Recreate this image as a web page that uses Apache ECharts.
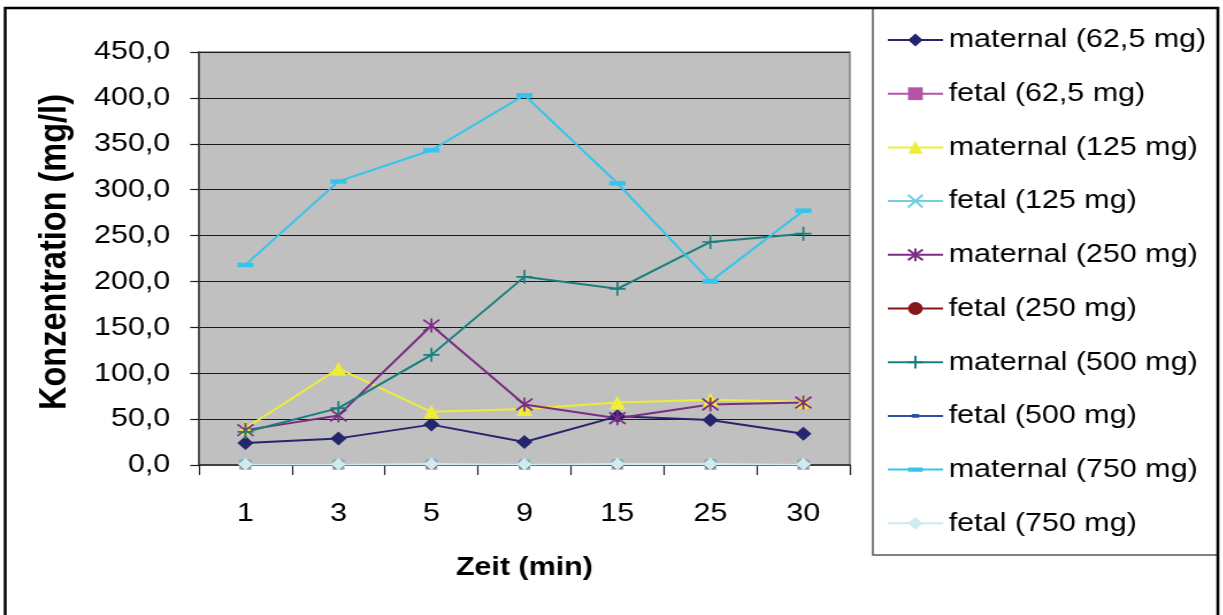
<!DOCTYPE html>
<html>
<head>
<meta charset="utf-8">
<script src="https://cdn.jsdelivr.net/npm/echarts@6/dist/echarts.min.js"></script>
<style>
  html, body { margin: 0; padding: 0; background: #fff; overflow: hidden; }
  /* the chart is laid out narrow and widened horizontally */
  #chart { width: 1063px; height: 615px; transform: scaleX(1.15); transform-origin: 0 0; }
</style>
</head>
<body>
<div id="chart"></div>
<script>
// Zeitpunkte (min)
const categories = ['1', '3', '5', '9', '15', '25', '30'];

// Konzentration (mg/l) je Dosis
const maternal62 = [24, 29, 44, 25, 53, 49, 34];
const fetal62 = [0.5, 0.5, 0.6, 0.5, 0.6, 0.5, 0.5];
const maternal125 = [40, 105, 58, 61, 68, 71, 69];
const fetal125 = [0.6, 0.7, 0.6, 0.7, 0.7, 0.6, 0.6];
const maternal250 = [38, 54, 152, 66, 51, 66, 68];
const fetal250 = [0.6, 0.6, 0.7, 0.6, 0.7, 0.7, 0.6];
const maternal500 = [36, 62, 120, 205, 192, 243, 252];
const fetal500 = [0.7, 0.7, 0.8, 0.7, 0.8, 0.8, 0.7];
const maternal750 = [218, 309, 343, 403, 307, 200, 277];
const fetal750 = [0.9, 0.9, 1.0, 0.9, 1.0, 1.0, 0.9];

const FONT = 'Liberation Sans, Arial, sans-serif';
const FS = 26.5;

// marker shapes; the tiny corner segments keep a square frame so dashes stay flat
const SYM_CROSS = 'path://M0,0 L10,10 M10,0 L0,10';
const SYM_STAR = 'path://M0,0 L10,10 M10,0 L0,10 M5,-1 L5,11';
const SYM_PLUS = 'path://M5,0 L5,10 M0,5 L10,5';
const SYM_DASH = 'path://M0,0 L0.01,0 L0,0.01 Z M0,3.4 L10,3.4 L10,6.6 L0,6.6 Z M9.99,10 L10,10 L10,9.99 Z';
const SYM_DASH_S = 'path://M0,0 L0.01,0 L0,0.01 Z M2.5,3.6 L7.5,3.6 L7.5,6.4 L2.5,6.4 Z M9.99,10 L10,10 L10,9.99 Z';

function line(name, data, color, symbol, size, stroked) {
  return {
    name: name,
    type: 'line',
    data: data,
    symbol: symbol,
    symbolSize: size,
    showAllSymbol: true,
    lineStyle: { color: color, width: 2 },
    itemStyle: stroked
      ? { color: 'rgba(0,0,0,0)', borderColor: color, borderWidth: 1.7 }
      : { color: color },
    emphasis: { disabled: true },
    animation: false
  };
}

const series = [
  line('maternal (62,5 mg)', maternal62, '#25246F', 'diamond', 14),
  line('fetal (62,5 mg)', fetal62, '#B653A7', 'rect', 10),
  line('maternal (125 mg)', maternal125, '#EDED3A', 'triangle', 14),
  line('fetal (125 mg)', fetal125, '#6FD0DF', SYM_CROSS, 10, true),
  line('maternal (250 mg)', maternal250, '#7B2D83', SYM_STAR, 14, true),
  line('fetal (250 mg)', fetal250, '#861719', 'circle', 10),
  line('maternal (500 mg)', maternal500, '#1A7F7C', SYM_PLUS, 14, true),
  line('fetal (500 mg)', fetal500, '#2F4FA3', SYM_DASH_S, 12),
  line('maternal (750 mg)', maternal750, '#33C5EE', SYM_DASH, 14),
  line('fetal (750 mg)', fetal750, '#CDEBF0', 'diamond', 13)
];

const chart = echarts.init(document.getElementById('chart'), null, { renderer: 'canvas' });

chart.setOption({
  animation: false,
  backgroundColor: '#ffffff',
  textStyle: { fontFamily: FONT },
  grid: {
    left: 173, right: 324, top: 52, bottom: 150,
    show: true, backgroundColor: '#C0C0C0', borderColor: '#808080', borderWidth: 1.5
  },
  xAxis: {
    type: 'category',
    data: categories,
    boundaryGap: true,
    name: 'Zeit (min)',
    nameLocation: 'middle',
    nameGap: 89,
    nameTextStyle: { fontFamily: FONT, fontSize: FS, fontWeight: 'bold', color: '#000' },
    axisLine: { lineStyle: { color: '#404040', width: 2 } },
    axisTick: { show: true, inside: false, length: 10, alignWithLabel: false, lineStyle: { color: '#202020', width: 1.2 } },
    axisLabel: { margin: 35, fontFamily: FONT, fontSize: FS, color: '#000' },
    splitLine: { show: false }
  },
  yAxis: {
    type: 'value',
    min: 0, max: 450, interval: 50,
    name: 'Konzentration (mg/l)',
    nameLocation: 'middle',
    nameGap: 108,
    nameRotate: 90,
    nameTextStyle: { fontFamily: FONT, fontSize: 32.5, fontWeight: 'bold', color: '#000', padding: [0, 0, 0, 13] },
    axisLine: { show: true, lineStyle: { color: '#404040', width: 1.6 } },
    axisTick: { show: true, inside: false, length: 7.6, lineStyle: { color: '#202020', width: 1.2 } },
    axisLabel: {
      margin: 25, fontFamily: FONT, fontSize: FS, color: '#000',
      formatter: v => v.toFixed(1).replace('.', ',')
    },
    splitLine: { show: true, lineStyle: { color: '#1a1a1a', width: 1.2 } }
  },
  legend: {
    orient: 'vertical',
    left: 771, top: 25,
    padding: 0,
    itemWidth: 48, itemHeight: 16, itemGap: 23.7,
    textStyle: { fontFamily: FONT, fontSize: FS, color: '#000', lineHeight: 30 },
    selectedMode: false,
    data: series.map(s => s.name)
  },
  graphic: [
    {
      type: 'rect', silent: true, z: 100,
      shape: { x: 759, y: 8, width: 300, height: 547 },
      style: { fill: 'none', stroke: '#555', lineWidth: 1.5 }
    },
    {
      type: 'rect', silent: true, z: 101,
      shape: { x: 4.5, y: 8, width: 1054.5, height: 700 },
      style: { fill: 'none', stroke: '#000', lineWidth: 2.5 }
    }
  ],
  series: series
});
</script>
</body>
</html>
